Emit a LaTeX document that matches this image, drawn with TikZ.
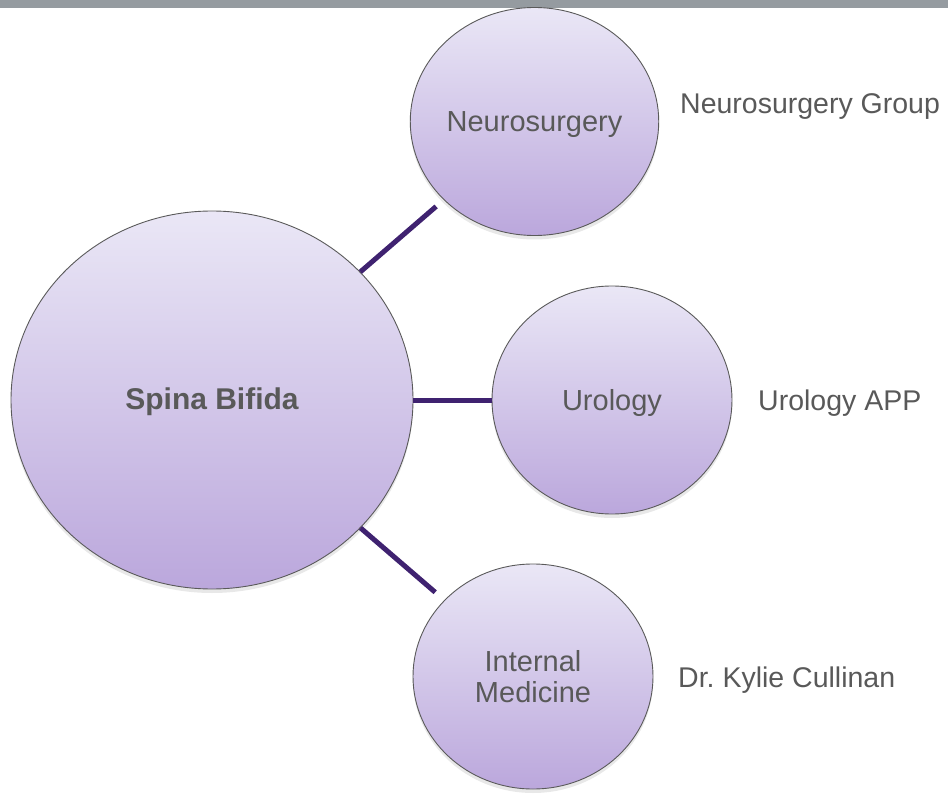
\documentclass[tikz,border=0pt]{standalone}
\usepackage{fontspec}
\setmainfont{Liberation Sans}
\usetikzlibrary{shapes.geometric,shadows}
\definecolor{barc}{HTML}{959BA0}
\definecolor{txt}{HTML}{595959}
\definecolor{conn}{HTML}{3F2270}
\definecolor{ctop}{HTML}{EAE7F6}
\definecolor{cbot}{HTML}{BBA7DC}
\definecolor{rim}{HTML}{5A5A5A}
\frenchspacing
\begin{document}
\begin{tikzpicture}[x=1pt,y=-1pt,
  bubble/.style={ellipse, inner sep=0pt, top color=ctop, bottom color=cbot,
    draw=rim, line width=0.9pt, text=txt, font=\fontsize{29}{31}\selectfont,
    align=center,
    drop shadow={shadow xshift=0pt, shadow yshift=-4pt, opacity=0.18}},
  small/.style={bubble, minimum width=240pt, minimum height=228pt},
  oneline/.style={text height=20pt, text depth=0pt},
  lbl/.style={text=txt, font=\fontsize{28.5}{31}\selectfont, inner sep=0pt, anchor=base west},
  link/.style={draw=conn, line width=5pt}
]
\useasboundingbox (0,0) rectangle (948,794);
\fill[barc] (0,0) rectangle (948,8);

\node[bubble, text height=18pt, text depth=0pt, minimum width=402pt, minimum height=378pt,
      font=\fontsize{30}{32}\selectfont\bfseries] (big) at (212,400) {Spina Bifida};
\node[small, oneline] (neuro) at (534.5,121.5) {Neurosurgery};
\node[small, oneline] (uro) at (612,400) {Urology};
\node[small, minimum height=225pt] (im) at (533,676.5) {Internal\\Medicine};

\draw[link, shorten >=10pt] (big) -- (neuro);
\draw[link] (big) -- (uro);
\draw[link, shorten >=12pt] (big) -- (im);

\node[lbl] (g1) at (680,114) {Neurosurgery Group};
\node[lbl] (g2) at (758,410) {Urology APP};
\node[lbl] (g3) at (678,687) {Dr. Kylie Cullinan};
\end{tikzpicture}
\end{document}
